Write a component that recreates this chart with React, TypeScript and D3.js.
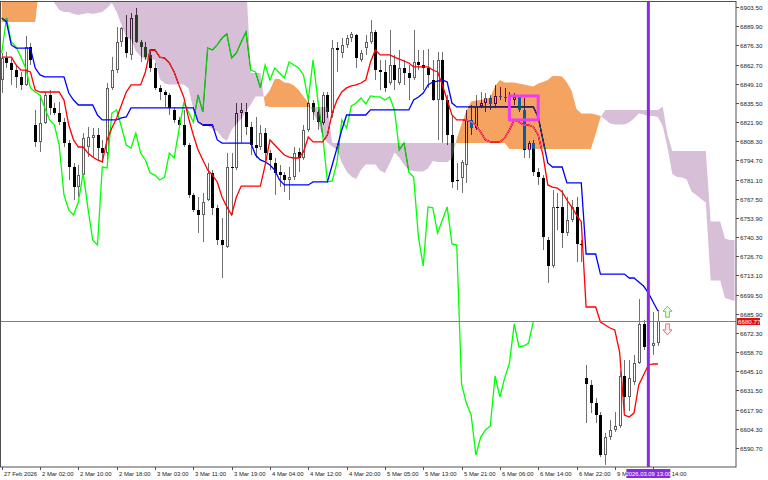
import React from "react";
import * as d3 from "d3";

// ---------- DATA (prices) ----------
// candles: [open, high, low, close], H1 bars
const candles: [number, number, number, number][] = [
  [6851.7, 6870.9, 6842.5, 6867.4], [6867.4, 6871.6, 6860.3, 6863.8], [6863.8, 6867.4, 6848.2, 6858.8],
  [6858.8, 6862.4, 6846.1, 6853.8], [6853.8, 6857.4, 6844.6, 6848.2], [6848.2, 6883.0, 6847.5, 6875.2],
  [6875.2, 6878.0, 6862.4, 6865.9], [6819.8, 6830.5, 6804.2, 6807.8], [6807.8, 6841.1, 6800.7, 6821.3],
  [6821.3, 6843.2, 6820.5, 6841.1], [6841.1, 6844.6, 6826.9, 6831.8], [6831.8, 6835.4, 6826.9, 6828.3],
  [6828.3, 6836.1, 6819.8, 6821.9], [6821.9, 6824.8, 6804.2, 6807.1], [6807.1, 6809.2, 6780.8, 6790.0],
  [6790.0, 6792.8, 6766.6, 6775.9], [6775.9, 6791.4, 6768.8, 6784.3], [6784.3, 6814.1, 6782.9, 6810.6],
  [6804.2, 6818.4, 6797.1, 6811.3], [6810.6, 6817.7, 6797.1, 6812.7], [6812.7, 6817.7, 6795.0, 6803.5],
  [6803.5, 6809.2, 6792.8, 6799.9], [6799.9, 6849.6, 6795.0, 6846.1], [6846.1, 6868.1, 6844.6, 6858.8],
  [6858.8, 6889.3, 6856.7, 6878.7], [6878.7, 6889.3, 6875.2, 6888.6], [6882.3, 6897.8, 6867.4, 6870.9],
  [6869.5, 6899.2, 6865.9, 6895.7], [6897.8, 6902.8, 6878.0, 6878.7], [6878.7, 6880.1, 6864.5, 6875.2],
  [6875.2, 6878.7, 6865.9, 6868.1], [6869.5, 6871.6, 6857.4, 6860.3], [6860.3, 6863.8, 6844.6, 6846.1],
  [6846.1, 6848.2, 6837.5, 6843.2], [6843.2, 6844.6, 6832.5, 6841.1], [6841.1, 6842.5, 6826.9, 6831.8],
  [6830.5, 6832.5, 6821.3, 6823.4], [6823.4, 6825.5, 6818.4, 6819.8], [6819.8, 6830.5, 6804.2, 6805.6],
  [6805.6, 6807.1, 6768.1, 6770.2], [6770.2, 6771.6, 6758.1, 6759.5], [6759.5, 6768.8, 6743.2, 6756.0],
  [6756.0, 6771.6, 6736.8, 6765.2], [6766.6, 6792.8, 6765.9, 6785.7], [6785.7, 6787.9, 6756.0, 6760.9],
  [6760.9, 6763.1, 6734.7, 6738.2], [6738.2, 6753.8, 6711.3, 6734.7], [6733.3, 6799.9, 6732.6, 6790.0],
  [6790.0, 6799.9, 6756.0, 6789.3], [6789.3, 6835.4, 6787.9, 6828.3], [6828.3, 6835.4, 6807.1, 6830.5],
  [6829.0, 6835.4, 6812.7, 6818.4], [6818.4, 6822.0, 6798.5, 6805.6], [6805.6, 6825.5, 6796.4, 6803.5],
  [6804.2, 6819.8, 6802.1, 6814.1], [6814.1, 6817.7, 6792.8, 6799.9], [6799.9, 6802.1, 6787.9, 6795.0],
  [6792.8, 6796.4, 6770.2, 6785.7], [6786.4, 6791.4, 6775.9, 6784.3], [6784.3, 6786.4, 6772.3, 6780.8],
  [6780.8, 6790.0, 6766.6, 6782.9], [6782.9, 6804.2, 6780.8, 6799.9], [6800.7, 6803.5, 6786.4, 6796.4],
  [6796.4, 6819.8, 6795.0, 6816.3], [6816.3, 6839.0, 6814.9, 6835.4], [6835.4, 6837.5, 6823.4, 6829.0],
  [6829.0, 6830.5, 6816.3, 6821.9], [6821.2, 6843.2, 6819.8, 6841.1], [6841.1, 6843.2, 6824.8, 6829.0],
  [6828.3, 6880.1, 6824.8, 6874.5], [6874.5, 6878.7, 6857.4, 6873.0], [6870.9, 6881.5, 6867.4, 6876.6],
  [6876.6, 6883.7, 6874.5, 6881.5], [6881.5, 6885.8, 6878.7, 6884.4], [6883.7, 6884.4, 6860.3, 6867.4],
  [6865.9, 6873.0, 6864.5, 6870.9], [6874.5, 6883.7, 6869.5, 6878.7], [6878.7, 6894.3, 6877.3, 6885.8],
  [6885.8, 6887.2, 6851.7, 6858.8], [6858.8, 6865.9, 6844.6, 6857.4], [6857.4, 6865.9, 6843.2, 6846.1],
  [6849.6, 6887.2, 6848.2, 6862.4], [6862.4, 6869.5, 6844.6, 6851.7], [6849.6, 6873.0, 6848.2, 6860.3],
  [6860.3, 6865.9, 6848.2, 6856.7], [6856.7, 6862.4, 6837.5, 6853.1], [6853.1, 6887.2, 6851.7, 6864.5],
  [6864.5, 6873.0, 6858.8, 6862.4], [6862.4, 6873.0, 6844.6, 6860.3], [6860.3, 6873.7, 6846.1, 6855.3],
  [6851.7, 6865.9, 6836.8, 6837.5], [6837.5, 6871.6, 6809.2, 6865.9], [6865.9, 6871.6, 6807.1, 6837.5],
  [6837.5, 6841.1, 6805.6, 6812.7], [6812.7, 6826.9, 6775.2, 6779.4], [6780.8, 6792.8, 6773.7, 6780.1],
  [6782.2, 6795.0, 6771.6, 6793.5], [6791.4, 6830.5, 6778.7, 6823.4], [6823.4, 6834.0, 6812.7, 6817.7],
  [6817.7, 6841.1, 6816.3, 6833.3], [6833.3, 6843.2, 6831.8, 6835.4], [6835.4, 6842.5, 6829.0, 6839.0],
  [6839.0, 6841.1, 6830.5, 6834.7], [6834.7, 6848.2, 6831.8, 6840.4], [6840.4, 6846.8, 6837.5, 6840.0],
  [6840.0, 6846.1, 6836.1, 6839.7], [6839.7, 6843.2, 6834.7, 6837.5], [6837.5, 6842.5, 6834.0, 6839.7],
  [6839.7, 6841.1, 6829.0, 6830.5], [6830.5, 6839.0, 6796.4, 6802.1], [6802.1, 6808.5, 6796.4, 6807.1],
  [6807.1, 6809.2, 6783.6, 6786.4], [6786.4, 6789.3, 6777.3, 6782.9], [6782.2, 6784.3, 6731.1, 6740.4],
  [6738.2, 6740.4, 6707.8, 6719.8], [6719.8, 6773.7, 6718.4, 6761.7], [6761.7, 6771.6, 6745.3, 6761.0],
  [6761.7, 6773.7, 6732.6, 6743.2], [6743.2, 6768.8, 6741.1, 6752.4], [6752.4, 6766.6, 6751.0, 6761.7],
  [6761.7, 6768.8, 6722.6, 6735.4], [6735.4, 6738.2, 6722.6, 6734.7], [6640.3, 6649.6, 6608.4, 6636.1],
  [6635.4, 6638.9, 6615.5, 6622.6], [6622.6, 6626.1, 6608.4, 6614.1], [6614.1, 6616.2, 6584.3, 6585.7],
  [6585.7, 6601.4, 6578.7, 6598.5], [6598.5, 6610.6, 6596.4, 6603.5], [6603.5, 6616.2, 6602.1, 6606.3],
  [6606.3, 6645.3, 6604.9, 6641.8], [6641.8, 6653.1, 6616.9, 6626.9], [6626.9, 6653.1, 6616.9, 6640.3],
  [6637.5, 6656.7, 6635.4, 6651.0], [6651.0, 6696.4, 6650.3, 6678.7], [6678.7, 6681.5, 6660.2, 6662.4],
  [6662.4, 6668.7, 6657.4, 6663.1], [6663.1, 6687.1, 6656.7, 6665.2], [6665.2, 6688.6, 6663.1, 6680.77],
];

// Tenkan-sen (red)
const tenkan: number[] = [
  6868.0, 6868.0, 6868.0, 6862.4, 6858.8, 6858.8, 6857.4, 6844.6, 6843.2, 6843.2,
  6843.2, 6843.2, 6843.2, 6837.5, 6819.8, 6809.2, 6804.2, 6804.2, 6799.9, 6797.1,
  6795.0, 6793.6, 6809.2, 6817.7, 6824.8, 6834.0, 6843.2, 6848.2, 6848.2, 6848.2,
  6857.4, 6873.0, 6873.0, 6868.0, 6867.3, 6863.8, 6857.4, 6848.2, 6839.7, 6824.8,
  6812.7, 6802.1, 6795.0, 6787.9, 6784.3, 6779.4, 6768.7, 6761.7, 6756.0, 6768.7,
  6776.5, 6776.5, 6776.5, 6776.5, 6776.5, 6791.4, 6809.2, 6805.6, 6802.1, 6798.5,
  6797.1, 6796.4, 6796.4, 6800.7, 6811.3, 6807.8, 6807.8, 6807.8, 6812.7, 6828.3,
  6837.5, 6843.2, 6846.1, 6847.5, 6848.2, 6849.6, 6851.7, 6864.5, 6873.0, 6869.5,
  6869.5, 6869.5, 6868.0, 6866.6, 6865.2, 6863.8, 6861.0, 6861.0, 6861.0, 6861.0,
  6858.8, 6857.4, 6848.2, 6837.5, 6826.9, 6823.4, 6823.4, 6823.4, 6822.0, 6819.8,
  6814.8, 6809.2, 6807.8, 6807.8, 6807.8, 6810.6, 6816.3, 6823.4, 6822.0, 6819.8,
  6819.8, 6818.4, 6812.7, 6798.5, 6777.3, 6775.8, 6775.1, 6772.3, 6766.6, 6761.7,
  6756.0, 6751.0, 6690.7, 6690.7, 6690.7, 6680.1, 6678.0, 6675.8, 6674.4, 6658.8,
  6614.1, 6612.7, 6615.5, 6635.4, 6642.5, 6649.6, 6650.3, 6650.3,
];

// Kijun-sen (blue)
const kijun: number[] = [
  6895.7, 6892.9, 6876.6, 6874.4, 6874.4, 6874.4, 6874.4, 6860.2, 6855.3, 6853.9,
  6853.9, 6853.9, 6853.9, 6853.9, 6842.5, 6837.5, 6834.0, 6834.0, 6834.0, 6834.0,
  6826.9, 6823.4, 6823.4, 6823.4, 6823.4, 6824.8, 6825.5, 6831.9, 6831.9, 6831.9,
  6831.9, 6831.9, 6831.9, 6831.9, 6831.9, 6831.9, 6831.9, 6831.9, 6831.9, 6831.9,
  6831.9, 6822.0, 6819.8, 6819.8, 6819.8, 6809.2, 6807.0, 6807.0, 6807.0, 6807.0,
  6807.0, 6807.0, 6807.0, 6798.5, 6795.0, 6793.6, 6791.4, 6787.9, 6780.8, 6777.3,
  6777.3, 6777.3, 6777.3, 6777.3, 6777.3, 6779.4, 6779.4, 6779.4, 6779.4, 6791.4,
  6803.5, 6816.3, 6826.9, 6826.9, 6826.9, 6826.9, 6826.9, 6830.5, 6830.5, 6830.5,
  6830.5, 6830.5, 6830.5, 6830.5, 6830.5, 6830.5, 6837.5, 6839.7, 6842.5, 6848.2,
  6850.3, 6851.0, 6851.7, 6850.3, 6835.4, 6832.6, 6832.6, 6832.6, 6832.6, 6832.6,
  6832.6, 6832.6, 6832.6, 6832.6, 6832.6, 6832.6, 6832.6, 6832.6, 6832.6, 6832.6,
  6832.6, 6832.6, 6825.5, 6809.2, 6792.9, 6790.0, 6790.0, 6790.0, 6778.7, 6778.7,
  6778.7, 6778.7, 6728.3, 6728.3, 6728.3, 6714.1, 6714.1, 6714.1, 6714.1, 6714.1,
  6714.1, 6711.3, 6711.3, 6708.5, 6705.6, 6700.7, 6694.3, 6687.9,
];

// Senkou Span A / B (already displaced 26 bars forward)
const senkouA: number[] = [
  6926.2, 6926.2, 6926.2, 6926.2, 6926.2, 6926.2, 6926.2, 6926.2, 6910.6, 6912.0,
  6910.6, 6906.3, 6901.4, 6900.0, 6900.0, 6898.5, 6897.8, 6898.5, 6899.3, 6898.5,
  6899.3, 6900.0, 6902.8, 6906.3, 6900.0, 6890.7, 6881.9, 6880.5, 6872.3, 6868.4,
  6866.6, 6866.6, 6865.9, 6852.4, 6849.3, 6848.5, 6848.5, 6848.5, 6848.5, 6845.7,
  6831.2, 6823.4, 6819.1, 6819.1, 6817.0, 6815.6, 6811.0, 6808.5, 6816.3, 6820.5,
  6824.1, 6829.4, 6834.3, 6840.0, 6840.0, 6840.0, 6844.6, 6852.4, 6852.4, 6850.0,
  6849.6, 6847.8, 6844.6, 6840.0, 6835.8, 6828.3, 6822.3, 6812.0, 6807.4, 6804.6,
  6802.1, 6793.2, 6786.8, 6783.3, 6781.5, 6787.9, 6791.8, 6791.8, 6791.8, 6787.5,
  6785.8, 6792.5, 6800.3, 6796.8, 6791.4, 6787.9, 6787.2, 6786.8, 6786.8, 6788.9,
  6794.3, 6793.6, 6793.6, 6793.6, 6796.0, 6809.9, 6820.5, 6829.7, 6836.5, 6837.2,
  6837.5, 6838.2, 6839.3, 6847.5, 6851.7, 6850.0, 6850.0, 6850.0, 6849.3, 6848.5,
  6847.8, 6847.1, 6849.3, 6850.3, 6851.7, 6854.6, 6854.6, 6854.2, 6850.0, 6843.9,
  6831.2, 6828.0, 6828.0, 6828.0, 6827.3, 6826.2, 6823.7, 6820.9, 6820.2, 6820.2,
  6820.2, 6821.6, 6824.4, 6828.0, 6827.3, 6826.2, 6826.2, 6825.5, 6819.1, 6803.9,
  6785.0, 6782.9, 6782.6, 6781.1, 6772.6, 6770.2, 6767.3, 6764.8, 6709.5, 6709.5,
  6709.5, 6697.1, 6696.0, 6695.0,
];
const senkouB: number[] = [
  6892.9, 6892.9, 6892.9, 6892.9, 6892.9, 6892.9, 6892.9, 6892.9, 6922.7, 6922.7,
  6922.7, 6922.7, 6922.7, 6922.7, 6922.7, 6922.7, 6922.7, 6922.7, 6922.7, 6922.7,
  6922.7, 6922.7, 6922.7, 6922.7, 6922.7, 6922.7, 6922.7, 6922.7, 6922.7, 6922.7,
  6922.7, 6922.7, 6922.7, 6922.7, 6922.7, 6922.7, 6922.7, 6922.7, 6922.7, 6922.7,
  6922.7, 6922.7, 6922.7, 6922.7, 6922.7, 6922.7, 6922.7, 6922.7, 6922.7, 6922.7,
  6922.7, 6922.7, 6856.7, 6856.7, 6856.7, 6833.3, 6832.6, 6832.6, 6832.6, 6832.6,
  6832.6, 6832.6, 6832.6, 6832.6, 6832.6, 6832.6, 6832.6, 6832.6, 6832.6, 6807.1,
  6807.1, 6807.1, 6807.1, 6807.1, 6807.1, 6807.1, 6807.1, 6807.1, 6807.1, 6807.1,
  6807.1, 6807.1, 6807.1, 6807.1, 6807.1, 6807.1, 6807.1, 6807.1, 6807.1, 6807.1,
  6807.1, 6807.1, 6807.1, 6807.1, 6807.1, 6807.1, 6807.1, 6807.1, 6807.1, 6807.1,
  6807.1, 6807.1, 6807.1, 6807.1, 6807.1, 6807.1, 6802.8, 6802.8, 6802.8, 6802.8,
  6802.8, 6802.8, 6802.8, 6802.8, 6802.8, 6802.8, 6802.8, 6802.8, 6802.8, 6802.8,
  6802.8, 6802.8, 6802.8, 6802.8, 6813.4, 6825.1, 6830.5, 6830.5, 6830.5, 6830.5,
  6830.5, 6830.5, 6830.5, 6830.5, 6830.5, 6830.5, 6830.5, 6830.5, 6832.9, 6812.7,
  6801.4, 6801.4, 6801.4, 6801.4, 6801.4, 6801.4, 6801.4, 6801.4, 6751.4, 6751.4,
  6751.4, 6739.3, 6738.2, 6738.2,
];

const chikouShift = 26;
const xLabels: string[] = [
  "27 Feb 2026", "2 Mar 02:00", "2 Mar 10:00", "2 Mar 18:00", "3 Mar 03:00", "3 Mar 11:00",
  "3 Mar 19:00", "4 Mar 04:00", "4 Mar 12:00", "4 Mar 20:00", "5 Mar 05:00", "5 Mar 13:00",
  "5 Mar 21:00", "6 Mar 06:00", "6 Mar 14:00", "6 Mar 22:00", "9 Mar 06:00", "9 Mar 14:00",
];
const xLabelStep = 8;
const yTicks: number[] = [
  6903.5, 6889.9, 6876.3, 6862.7, 6849.1, 6835.5, 6821.9, 6808.3, 6794.7, 6781.1, 6767.5, 6753.9,
  6740.3, 6726.7, 6713.1, 6699.5, 6685.9, 6672.3, 6658.7, 6645.1, 6631.5, 6617.9, 6604.3, 6590.7,
];
const lastPrice = 6680.77;
const markerBar = 135;
const markerLabel = "2026.03.09 13:00";
const boxBars: [number, number] = [106, 112];
const boxPrices: [number, number] = [6840.4, 6823.4];
const arrowBar = 139;
const arrowUpPrice = 6687.0;
const arrowDownPrice = 6675.2;

// ---------- CHART ----------
const W = 768, H = 480;
const PL = 0.5, PT = 1.5, PR = 736, PB = 467;
const FONT = "'Liberation Sans', Arial, sans-serif";

export default function App() {
  const x = d3.scaleLinear().domain([0, 153]).range([1.7, 1.7 + 4.79 * 153]);
  const y = d3.scaleLinear().domain([6577.23, 6907.05]).range([PB, 2]);

  const line = d3.line<number>().x((_, i) => x(i)).y((v) => y(v));
  const chikou = candles.slice(chikouShift).map((c) => c[3]);

  // cloud points with crossings inserted
  const pts: { i: number; a: number; b: number }[] = [];
  for (let i = 0; i < senkouA.length; i++) {
    pts.push({ i, a: senkouA[i], b: senkouB[i] });
    if (i < senkouA.length - 1) {
      const d0 = senkouA[i] - senkouB[i];
      const d1 = senkouA[i + 1] - senkouB[i + 1];
      if (d0 * d1 < 0) {
        const t = d0 / (d0 - d1);
        const v = senkouA[i] + t * (senkouA[i + 1] - senkouA[i]);
        pts.push({ i: i + t, a: v, b: v });
      }
    }
  }
  const bullArea = d3.area<{ i: number; a: number; b: number }>()
    .x((d) => x(d.i)).y0((d) => y(d.a)).y1((d) => y(Math.min(d.a, d.b)));
  const bearArea = d3.area<{ i: number; a: number; b: number }>()
    .x((d) => x(d.i)).y0((d) => y(d.b)).y1((d) => y(Math.min(d.a, d.b)));

  const xm = x(markerBar);
  const yLast = Math.round(y(lastPrice)) + 0.5;
  const ax = x(arrowBar);
  const ayU = y(arrowUpPrice);
  const ayD = y(arrowDownPrice);

  return (
    <svg width={W} height={H} style={{ position: "absolute", left: 0, top: 0, background: "#fff" }}>
      <defs>
        <clipPath id="plot">
          <rect x={PL} y={PT} width={PR - PL} height={PB - PT} />
        </clipPath>
      </defs>
      <rect x={0} y={0} width={W} height={H} fill="#fff" />
      <g clipPath="url(#plot)">
        <rect x={0} y={0} width={W} height={H} fill="#fff" />
        {/* candles */}
        {candles.map(([o, h, l, c], i) => {
          const cx = Math.round(x(i)) + 0.5;
          const up = c >= o;
          const yt = Math.round(y(Math.max(o, c)));
          const yb = Math.round(y(Math.min(o, c)));
          return (
            <g key={i}>
              <line x1={cx} x2={cx} y1={y(h)} y2={y(l)} stroke="#707070" strokeWidth={1} />
              {up ? (
                <rect x={cx - 1} y={yt + 0.5} width={2} height={Math.max(yb - yt - 1, 0)} fill="#fff" stroke="#606060" strokeWidth={1} />
              ) : (
                <rect x={cx - 1.5} y={yt} width={3} height={Math.max(yb - yt, 1)} fill="#000" />
              )}
            </g>
          );
        })}
        {/* ichimoku lines */}
        <path d={line(chikou) || ""} fill="none" stroke="#00ff00" strokeWidth={1.3} />
        <path d={line(kijun) || ""} fill="none" stroke="#0000ff" strokeWidth={1.3} />
        <path d={line(tenkan) || ""} fill="none" stroke="#ff0000" strokeWidth={1.3} />
        {/* cloud, xor-like blend */}
        <path d={bullArea(pts) || ""} fill="rgb(11,91,159)" style={{ mixBlendMode: "difference" }} />
        <path d={bearArea(pts) || ""} fill="rgb(39,64,39)" style={{ mixBlendMode: "difference" }} />
        {/* price line */}
        <line x1={PL} x2={PR} y1={yLast} y2={yLast} stroke="#d06060" strokeWidth={1} />
        {/* rectangle object */}
        <rect x={x(boxBars[0])} y={y(boxPrices[0])} width={x(boxBars[1]) - x(boxBars[0])}
          height={y(boxPrices[1]) - y(boxPrices[0])} fill="none" stroke="#f03cf0" strokeWidth={3} />
        {/* vertical marker */}
        <line x1={xm} x2={xm} y1={PT} y2={PB} stroke="#8a2be2" strokeWidth={3} />
        {/* arrows */}
        <path d={`M${ax},${ayU - 6} L${ax + 4.5},${ayU - 1} L${ax + 1.8},${ayU - 1} L${ax + 1.8},${ayU + 5} L${ax - 1.8},${ayU + 5} L${ax - 1.8},${ayU - 1} L${ax - 4.5},${ayU - 1} Z`}
          fill="#f2fff2" stroke="#4cd44c" strokeWidth={1} />
        <path d={`M${ax},${ayD + 6} L${ax + 4.5},${ayD + 1} L${ax + 1.8},${ayD + 1} L${ax + 1.8},${ayD - 5} L${ax - 1.8},${ayD - 5} L${ax - 1.8},${ayD + 1} L${ax - 4.5},${ayD + 1} Z`}
          fill="#fff2f2" stroke="#f06a6a" strokeWidth={1} />
      </g>
      {/* frame */}
      <rect x={PL} y={PT} width={PR - PL} height={PB - PT} fill="none" stroke="#505050" strokeWidth={1} />
      {/* y axis */}
      {yTicks.map((v) => {
        const yy = Math.round(y(v)) + 0.5;
        return (
          <g key={v}>
            <line x1={PR} x2={PR + 3} y1={yy} y2={yy} stroke="#505050" />
            <text x={PR + 4} y={yy + 2.2} fontSize={6.2} fontFamily={FONT} fill="#222">{v.toFixed(2)}</text>
          </g>
        );
      })}
      <rect x={PR + 1} y={yLast - 3.5} width={23} height={7} fill="#e01010" />
      <text x={PR + 2} y={yLast + 2.2} fontSize={6.2} fontFamily={FONT} fill="#fff">{lastPrice.toFixed(2)}</text>
      {/* x axis */}
      {xLabels.map((s, k) => {
        const xx = Math.round(x(k * xLabelStep)) + 0.5;
        return (
          <g key={s}>
            <line x1={xx} x2={xx} y1={PB} y2={PB + 3} stroke="#505050" />
            <text x={xx + 1.5} y={476} fontSize={5.9} fontFamily={FONT} fill="#222">{s}</text>
          </g>
        );
      })}
      <rect x={xm - 22} y={469} width={44} height={9} fill="#8a2be2" />
      <text x={xm} y={476} fontSize={5.9} fontFamily={FONT} fill="#fff" textAnchor="middle">{markerLabel}</text>
    </svg>
  );
}
